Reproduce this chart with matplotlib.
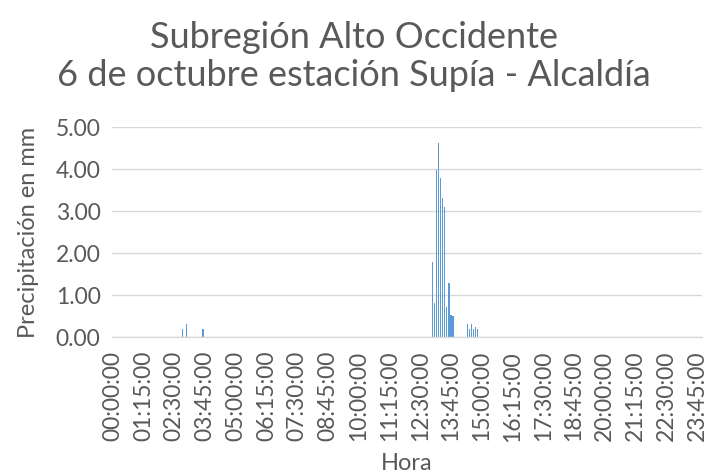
import numpy as np
import matplotlib.pyplot as plt

# ---------------- DATA ----------------
# 5-minute records for the whole day; only the non-zero readings are listed
wet_times = ["02:50:00", "03:00:00", "03:40:00",
             "13:00:00", "13:05:00", "13:10:00", "13:15:00", "13:20:00", "13:25:00",
             "13:30:00", "13:35:00", "13:40:00", "13:45:00", "13:50:00",
             "14:25:00", "14:30:00", "14:35:00", "14:40:00", "14:45:00", "14:50:00"]
wet_values = [0.20, 0.30, 0.20,
              1.78, 0.81, 3.98, 4.62, 3.79, 3.30,
              3.10, 0.71, 1.29, 0.52, 0.50,
              0.30, 0.20, 0.30, 0.20, 0.25, 0.20]

hours = [f"{m // 60:02d}:{m % 60:02d}:00" for m in range(0, 24 * 60, 5)]
rain = dict.fromkeys(hours, 0.0)
rain.update(dict(zip(wet_times, wet_values)))
values = [rain[h] for h in hours]

# ---------------- STYLE ----------------
FONT = "Lato"
GREY = "#595959"
GRID = "#D9D9D9"
BLUE = "#5B9BD5"

plt.rcParams["font.family"] = [FONT, "DejaVu Sans"]

# ---------------- PLOT ----------------
fig = plt.figure(figsize=(7.07, 4.73), dpi=100)
ax = fig.add_axes([0.158, 0.2875, 0.835, 0.444])

x = np.arange(len(hours))
ax.bar(x, values, width=0.6, color=BLUE, linewidth=0)

ax.set_xlim(-0.5, len(hours) - 0.5)
ax.set_ylim(0, 5)
ax.set_yticks(np.arange(0, 5.01, 1))
ax.set_yticklabels([f"{v:.2f}" for v in np.arange(0, 5.01, 1)])
ax.set_xticks(x[::15])
ax.set_xticklabels(hours[::15], rotation=90)

ax.tick_params(length=0, colors=GREY, labelsize=16.5)
ax.tick_params(axis="x", pad=10)
ax.tick_params(axis="y", pad=8)
ax.grid(axis="y", color=GRID, linewidth=1)
ax.set_axisbelow(True)
for s in ["top", "right", "left"]:
    ax.spines[s].set_visible(False)
ax.spines["bottom"].set_color(GRID)
ax.spines["bottom"].set_linewidth(1)

ax.set_ylabel("Precipitación en mm", color=GREY, fontsize=17, labelpad=12)
ax.set_xlabel("Hora", color=GREY, fontsize=17, labelpad=8)

fig.text(0.5, 0.880, "Subregión Alto Occidente\n6 de octubre estación Supía - Alcaldía",
         ha="center", va="center", color=GREY, fontsize=26, linespacing=1.2)

fig.savefig("out.png", dpi=100)
